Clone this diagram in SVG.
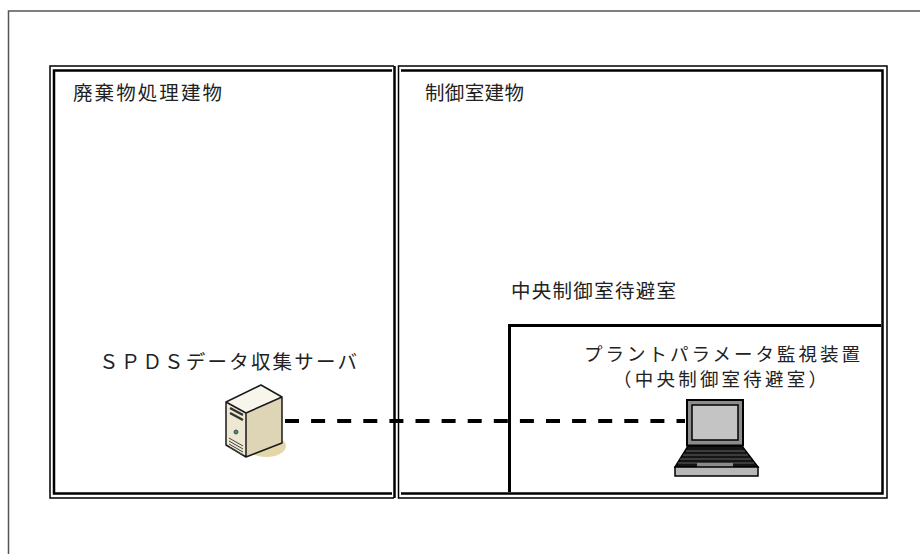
<svg xmlns="http://www.w3.org/2000/svg" width="920" height="554" viewBox="0 0 920 554">
<style>
  .lbl { font-family: "Noto Sans CJK JP", "Noto Sans", sans-serif; font-size: 19.5px; fill: #222; }
  .sm { font-size: 18.5px; }
  .thin { stroke: #000; stroke-width: 1.5; fill: none; }
  .thick { stroke: #000; stroke-width: 2.5; fill: none; }
  .wall { stroke: #000; stroke-width: 3; fill: none; }
  .link { stroke: #000; stroke-width: 4; fill: none; stroke-dasharray: 14 12.1; }
</style>
<rect width="920" height="554" fill="#fff"/>
<g id="frame">
  <path d="M8.5 554 V11 H920" stroke="#555" stroke-width="1.5" fill="none"/>
</g>
<g id="waste-building">
  <path class="thin" d="M394 66 H50 V498 H394"/>
  <path class="thick" d="M392 70.5 H54 V493.5 H392"/>
  <line class="thick" x1="394.5" y1="66" x2="394.5" y2="498"/>
  <text class="lbl" x="73" y="100" textLength="149" lengthAdjust="spacing">廃棄物処理建物</text>
</g>
<g id="control-building">
  <path class="thin" d="M398.5 66 H887 V498 H398.5 Z"/>
  <path class="thick" d="M401 70.5 H882.5 V493.5 H401"/>
  <text class="lbl" x="425" y="100" textLength="99" lengthAdjust="spacing">制御室建物</text>
</g>
<g id="evacuation-room">
  <path class="wall" d="M509.5 492 V325.5 H881"/>
  <text class="lbl" x="511" y="298" textLength="165" lengthAdjust="spacing">中央制御室待避室</text>
</g>
<g id="connectors">
  <line class="link" x1="285" y1="421" x2="685" y2="421"/>
</g>
<g id="spds-server">
  <ellipse cx="266" cy="446" rx="20" ry="11" fill="#e3d6a8"/>
  <path d="M226 402 L261 385 L282 397 L246 413 Z" fill="#f8f5ec"/>
  <path d="M226 402 L246 413 L246 457 L226 445 Z" fill="#eee7d3"/>
  <path d="M246 413 L282 397 L282 443 L246 457 Z" fill="#ded4b6"/>
  <path d="M226 402 L261 385 L282 397 L282 443 L246 457 L226 445 Z M226 402 L246 413 L282 397 M246 413 V457" fill="none" stroke="#1a1a1a" stroke-width="1.5" stroke-linejoin="round"/>
  <path d="M230 408 L243 415 M230 413 L243 420" stroke="#333" stroke-width="2.5"/>
  <circle cx="236" cy="432" r="2" fill="#2a9a7a" stroke="#333" stroke-width="0.8"/>
  <path d="M229 438 L243 446 M229 441 L243 449 M229 444 L243 452 M229 447 L243 455" stroke="#444" stroke-width="1"/>
  <text class="lbl" x="99" y="369" textLength="258" lengthAdjust="spacing">ＳＰＤＳデータ収集サーバ</text>
</g>
<g id="plant-monitor">
  <rect x="687" y="400" width="56" height="45.5" fill="#8c8c8c" stroke="#000" stroke-width="2"/>
  <rect x="692" y="405" width="46" height="35" fill="#c4c4c4" stroke="#000" stroke-width="1.5"/>
  <path d="M688 446 H742 L758 467 H675 Z" fill="#151515" stroke="#000" stroke-width="1.5"/>
  <path d="M686 451 H745 M683 455 H748 M680 459 H751 M678 463 H754" stroke="#777" stroke-width="0.8"/>
  <rect x="697" y="463" width="36" height="4" fill="#8c8c8c"/>
  <path d="M675 467 H758 V476 H675 Z" fill="#b8b8b8" stroke="#000" stroke-width="1.5"/>
  <text class="lbl sm" x="584" y="361" textLength="276" lengthAdjust="spacing">プラントパラメータ監視装置</text>
  <text class="lbl sm" x="613" y="386" textLength="214" lengthAdjust="spacing">（中央制御室待避室）</text>
</g>
</svg>
